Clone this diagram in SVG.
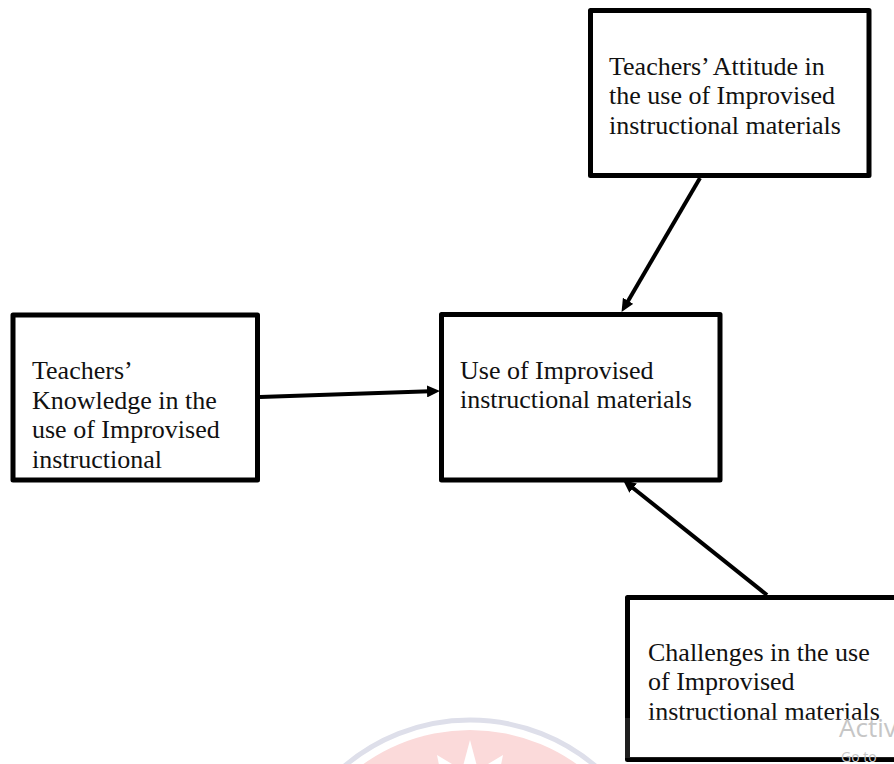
<svg xmlns="http://www.w3.org/2000/svg" width="894" height="764" viewBox="0 0 894 764">
<defs>
<style>
.box{fill:#ffffff;stroke:#000000;stroke-width:5;stroke-linejoin:round}
.lbl{font-family:"Liberation Serif","Times New Roman",serif;font-size:26px;fill:#111111}
.conn{stroke:#000000;stroke-width:4;fill:none}
.wm{font-family:"Open Sans","Noto Sans",sans-serif;fill:#c6c6c6}
</style>
<marker id="ah" markerUnits="userSpaceOnUse" markerWidth="14" markerHeight="12" refX="3" refY="6" orient="auto">
<path d="M0,0 L13,6 L0,12 z" fill="#000000"/>
</marker>
</defs>
<rect width="894" height="764" fill="#ffffff"/>
<g id="watermark-logo">
<circle cx="470" cy="914" r="194" fill="none" stroke="#dedfea" stroke-width="5"/>
<circle cx="470" cy="914" r="184" fill="#fbdada"/>
<polygon points="470,740 478,770 503,755 496,790 444,790 437,755 462,770" fill="#ffffff"/>
</g>
<g id="connectors">
<line class="conn" x1="260" y1="397" x2="430" y2="391.3" marker-end="url(#ah)"/>
<line class="conn" x1="700" y1="178" x2="626.6" y2="303.4" marker-end="url(#ah)"/>
<line class="conn" x1="767" y1="595" x2="630.8" y2="486.2" marker-end="url(#ah)"/>
</g>
<g id="node-attitude">
<rect class="box" x="590.5" y="10.5" width="278.5" height="165"/>
<text class="lbl" x="609" y="75">Teachers’ Attitude in</text>
<text class="lbl" x="609" y="104">the use of Improvised</text>
<text class="lbl" x="609" y="133.5">instructional materials</text>
</g>
<g id="node-knowledge">
<rect class="box" x="13" y="315" width="244.5" height="165"/>
<text class="lbl" x="32" y="379">Teachers’</text>
<text class="lbl" x="32" y="408.5">Knowledge in the</text>
<text class="lbl" x="32" y="438">use of Improvised</text>
<text class="lbl" x="32" y="467.5">instructional</text>
</g>
<g id="node-use">
<rect class="box" x="441.5" y="314.5" width="278.5" height="165.5"/>
<text class="lbl" x="460" y="379">Use of Improvised</text>
<text class="lbl" x="460" y="408">instructional materials</text>
</g>
<g id="node-challenges">
<rect class="box" x="627.5" y="597.5" width="280" height="162"/>
<text class="lbl" x="648" y="661">Challenges in the use</text>
<text class="lbl" x="648" y="690">of Improvised</text>
<text class="lbl" x="648" y="720">instructional materials</text>
</g>
<g id="activation-overlay">
<rect x="620" y="718" width="274" height="40" fill="#ffffff" opacity="0.12"/>
<text class="wm" x="839" y="737" font-size="26">Activ</text>
<text class="wm" x="841" y="762" font-size="14">Go to</text>
</g>
</svg>
